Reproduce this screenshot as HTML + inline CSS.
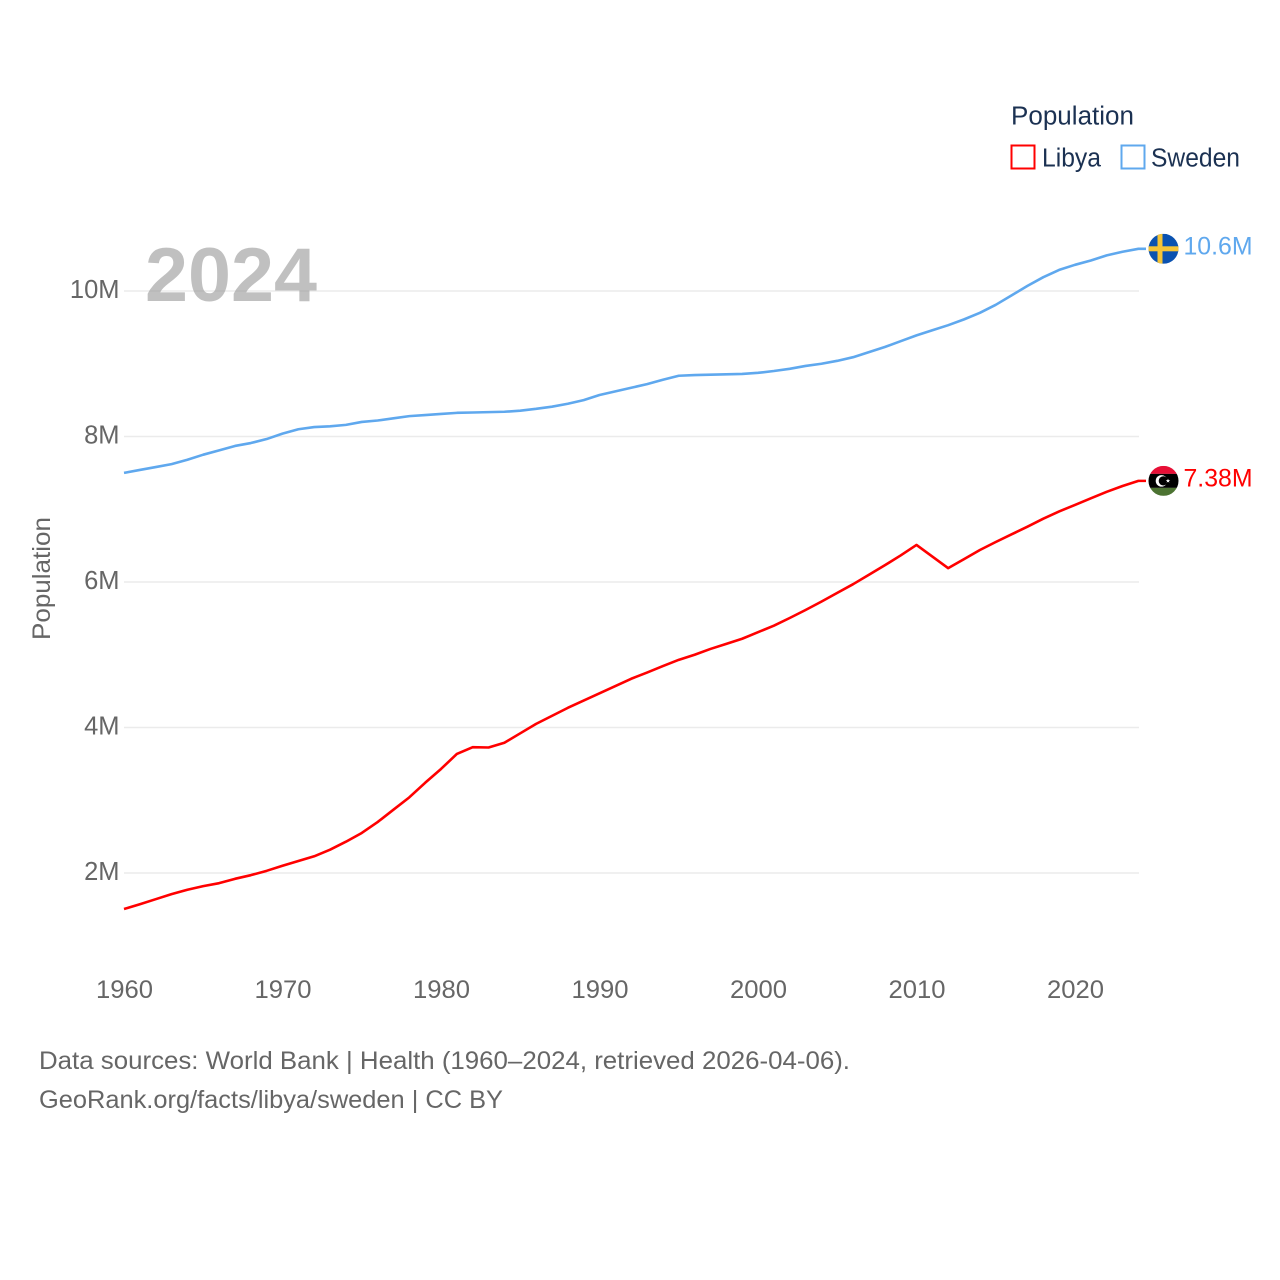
<!DOCTYPE html>
<html lang="en">
<head>
<meta charset="utf-8">
<title>Population: Libya and Sweden</title>
<style>
html,body{margin:0;padding:0;background:#fff;}
svg{display:block;font-family:"Liberation Sans",sans-serif;}
</style>
</head>
<body>
<svg id="chart" xmlns="http://www.w3.org/2000/svg" width="1280" height="1280" viewBox="0 0 1280 1280">
  <defs>
    <clipPath id="flag-clip"><circle cx="0" cy="0" r="15"/></clipPath>
  </defs>
  <rect x="0" y="0" width="1280" height="1280" fill="#fff"/>
  <g id="grid"></g>
  <text x="145" y="301" font-size="76" font-weight="700" fill="#999" fill-opacity="0.62" textLength="172" lengthAdjust="spacingAndGlyphs">2024</text>
  <g id="y-ticks"></g>
  <g id="x-ticks"></g>
  <text transform="translate(50,640) rotate(-90)" font-size="25" fill="#666" textLength="123" lengthAdjust="spacingAndGlyphs">Population</text>
  <g id="series"></g>

  <g id="flag-sweden">
    <g clip-path="url(#flag-clip)">
      <rect x="-15" y="-15" width="30" height="30" fill="#0b52b0"/>
      <rect x="-6" y="-15" width="5" height="30" fill="#f5c437"/>
      <rect x="-15" y="-2.5" width="30" height="5" fill="#f5c437"/>
    </g>
  </g>
  <g id="flag-libya">
    <g clip-path="url(#flag-clip)">
      <rect x="-15" y="-15" width="30" height="8" fill="#e70f36"/>
      <rect x="-15" y="-7" width="30" height="14" fill="#000"/>
      <rect x="-15" y="7" width="30" height="8" fill="#4c7332"/>
      <circle cx="-2" cy="0" r="5.800" fill="#fff"/>
      <circle cx="-0.200" cy="0" r="4.600" fill="#000"/>
      <polygon points="4.500,-2.200 5.100,-0.700 6.700,-0.700 5.400,0.300 5.900,1.800 4.500,0.900 3.100,1.800 3.600,0.300 2.300,-0.700 3.900,-0.700" fill="#fff"/>
    </g>
  </g>
  <text id="label-sweden" font-size="25" fill="#5fa8ee" textLength="69" lengthAdjust="spacingAndGlyphs"></text>
  <text id="label-libya" font-size="25" fill="#ff0000" textLength="69" lengthAdjust="spacingAndGlyphs"></text>

  <g>
    <text x="1011" y="124.500" font-size="25.500" fill="#1b3152" textLength="123" lengthAdjust="spacingAndGlyphs">Population</text>
    <g>
      <rect x="1011.500" y="145.500" width="23" height="23" fill="#fff" stroke="#ff0000" stroke-width="2"/>
      <text x="1042" y="166.500" font-size="25.500" fill="#1b3152" textLength="59" lengthAdjust="spacingAndGlyphs">Libya</text>
    </g>
    <g>
      <rect x="1121.500" y="145.500" width="23" height="23" fill="#fff" stroke="#5fa8ee" stroke-width="2"/>
      <text x="1151" y="166.500" font-size="25.500" fill="#1b3152" textLength="89" lengthAdjust="spacingAndGlyphs">Sweden</text>
    </g>
  </g>

  <g>
    <text x="39" y="1069" font-size="25" fill="#666" textLength="811" lengthAdjust="spacingAndGlyphs">Data sources: World Bank | Health (1960–2024, retrieved 2026-04-06).</text>
    <text x="39" y="1108" font-size="25" fill="#666" textLength="464" lengthAdjust="spacingAndGlyphs">GeoRank.org/facts/libya/sweden | CC BY</text>
  </g>
</svg>
<script>
const startYear = 1960;
const xTickYears = [1960, 1970, 1980, 1990, 2000, 2010, 2020];
const yTickValues = [2, 4, 6, 8, 10];
const endLabelLibya = "7.38M";
const endLabelSweden = "10.6M";
const libyaValues = [
  1.505, 1.57, 1.64, 1.71, 1.77, 1.82, 1.86, 1.92, 1.97, 2.03,
  2.10, 2.165, 2.23, 2.32, 2.43, 2.55, 2.70, 2.87, 3.04, 3.24,
  3.43, 3.636, 3.73, 3.725, 3.79, 3.92, 4.05, 4.16, 4.27, 4.37,
  4.47, 4.57, 4.67, 4.755, 4.845, 4.93, 5.00, 5.08, 5.15, 5.22,
  5.31, 5.40, 5.505, 5.615, 5.73, 5.85, 5.97, 6.10, 6.23, 6.365,
  6.51, 6.35, 6.19, 6.315, 6.44, 6.55, 6.655, 6.76, 6.87, 6.97,
  7.06, 7.15, 7.24, 7.32, 7.39
];
const swedenValues = [
  7.50, 7.54, 7.58, 7.62, 7.68, 7.75, 7.81, 7.87, 7.91, 7.965,
  8.04, 8.10, 8.13, 8.14, 8.16, 8.20, 8.22, 8.25, 8.28, 8.295,
  8.31, 8.325, 8.33, 8.335, 8.34, 8.355, 8.38, 8.41, 8.45, 8.50,
  8.57, 8.62, 8.67, 8.72, 8.78, 8.835, 8.845, 8.85, 8.855, 8.86,
  8.875, 8.90, 8.93, 8.97, 9.00, 9.04, 9.09, 9.16, 9.23, 9.31,
  9.39, 9.46, 9.53, 9.61, 9.70, 9.81, 9.94, 10.07, 10.19, 10.29,
  10.36, 10.42, 10.49, 10.54, 10.58
];

const NS = "http://www.w3.org/2000/svg";
function xScale(year) { return 124 + (year - 1960) * 15.85; }
function yScale(value) { return 873 - (value - 2) * 72.75; }
function make(tag, attrs, parent) {
  const el = document.createElementNS(NS, tag);
  Object.keys(attrs).forEach(function (k) { el.setAttribute(k, attrs[k]); });
  parent.appendChild(el);
  return el;
}

const gridGroup = document.getElementById("grid");
const yTickGroup = document.getElementById("y-ticks");
yTickValues.forEach(function (v) {
  const line = make("line", { x1: 124, x2: 1139, y1: yScale(v), y2: yScale(v), stroke: "#ebebeb", "stroke-width": 1.5 }, gridGroup);
  
  
  const label = make("text", { x: 119.5, y: yScale(v) + 7, "text-anchor": "end", "font-size": 25.5, fill: "#666" }, yTickGroup);
  
  
  label.textContent = v + "M";
});

const xTickGroup = document.getElementById("x-ticks");
xTickYears.forEach(function (yr) {
  const label = make("text", { x: xScale(yr) + 0.5, y: 998, "text-anchor": "middle", "font-size": 25, fill: "#666", textLength: 57, lengthAdjust: "spacingAndGlyphs" }, xTickGroup);
  
  
  label.textContent = String(yr);
});

function drawSeries(values, color, lineName, flagId, labelId, labelText) {
  const lastIndex = values.length - 1;
  const lastY = yScale(values[lastIndex]);
  const pts = values.map(function (v, i) {
    return xScale(startYear + i).toFixed(2) + "," + yScale(v).toFixed(2);
  });
  pts.push("1146," + lastY.toFixed(2));
  const line = make("polyline", { points: pts.join(" "), fill: "none", stroke: color, "stroke-width": 2.6, "stroke-linejoin": "round" }, document.getElementById("series"));
  
  
  document.getElementById(flagId).setAttribute("transform", "translate(1163.5," + lastY.toFixed(2) + ")");
  const label = document.getElementById(labelId);
  label.setAttribute("x", 1183.5);
  label.setAttribute("y", (lastY + 5.5).toFixed(2));
  label.textContent = labelText;
}
drawSeries(libyaValues, "#ff0000", "libya-line", "flag-libya", "label-libya", endLabelLibya);
drawSeries(swedenValues, "#5fa8ee", "sweden-line", "flag-sweden", "label-sweden", endLabelSweden);
</script>
</body>
</html>
